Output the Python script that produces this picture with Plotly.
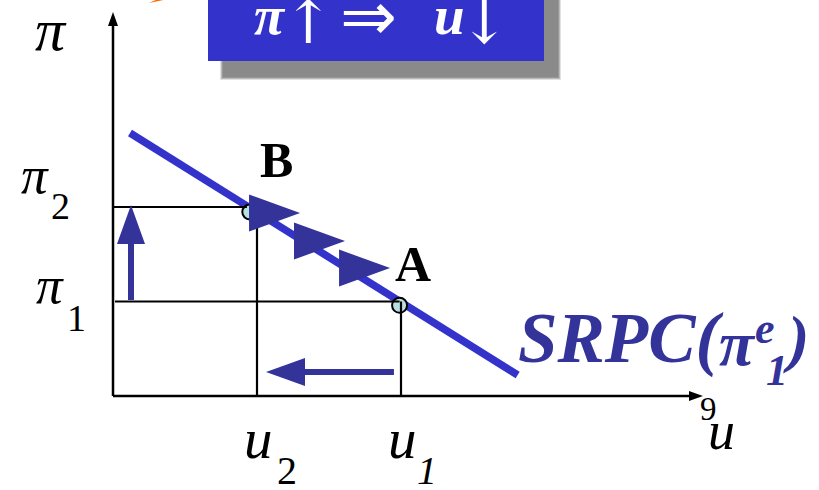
import plotly.graph_objects as go

W, H = 819, 490
X0, Y0 = 113.0, 396.0   # pixel position of the origin
SX, SY = 144.0, 94.5    # pixels per model unit

# ---------------- data (model units) ----------------
u_levels = [1.0, 2.0]            # u2, u1
u_sub = ["2", "1"]
pi_levels = [1.0, 2.0]           # pi1, pi2
pi_sub = ["1", "2"]
srpc_u = [0.118, 2.81]
srpc_pi = [2.783, 0.222]
point_u = [1.99, 0.95]           # A, B
point_pi = [0.96, 1.947]
point_labels = ["A", "B"]
axis_u_max = 4.097
axis_pi_max = 4.063
move_u = [1.299, 1.611, 1.924]   # arrowheads along the SRPC (tips)
move_pi = [1.937, 1.640, 1.354]
shock_pi_u = 0.125               # vertical arrow: inflation rises
shock_pi_from, shock_pi_to = 1.016, 2.02
shock_u_pi = 0.254               # horizontal arrow: unemployment falls
shock_u_from, shock_u_to = 1.951, 1.0625

BLUE = "#3333CC"
DARK = "#333399"
SERIF = "Liberation Serif"


def dx(p):  # pixel x -> model u
    return (p - X0) / SX


def dy(p):  # pixel y -> model pi
    return (Y0 - p) / SY


def mx(u):  # model u -> pixel
    return X0 + u * SX


def my(v):
    return Y0 - v * SY


def path_px(pts):
    return "M " + " L ".join(f"{dx(x):.4f},{dy(y):.4f}" for x, y in pts) + " Z"


fig = go.Figure()
shapes = []

# shadow of the title box (soft)
for i, op in enumerate([0.25, 0.45, 0.7, 1.0]):
    g = 3 - i
    shapes.append(dict(type="rect", xref="x", yref="y",
                       x0=dx(223 - g), x1=dx(558 + g), y0=dy(-10), y1=dy(77 + g),
                       fillcolor="#8a8a8a", opacity=op, line=dict(width=0), layer="below"))
shapes.append(dict(type="rect", xref="x", yref="y",
                   x0=dx(208), x1=dx(544), y0=dy(-10), y1=dy(61),
                   fillcolor=BLUE, line=dict(width=0)))
# small orange sliver at the top
shapes.append(dict(type="path", xref="x", yref="y",
                   path=path_px([(149, 3), (168, -1), (158, -1)]),
                   fillcolor="#FF6600", line=dict(width=0)))

# axes
shapes.append(dict(type="line", xref="x", yref="y", x0=0, y0=0, x1=0, y1=axis_pi_max - 0.1,
                   line=dict(color="black", width=2.5)))
shapes.append(dict(type="line", xref="x", yref="y", x0=0, y0=0, x1=axis_u_max - 0.06, y1=0,
                   line=dict(color="black", width=2.5)))
tx, ty = mx(0), my(axis_pi_max)
shapes.append(dict(type="path", xref="x", yref="y",
                   path=path_px([(tx, ty), (tx - 5, ty + 14), (tx + 5, ty + 14)]),
                   fillcolor="black", line=dict(width=0)))
tx, ty = mx(axis_u_max), my(0)
shapes.append(dict(type="path", xref="x", yref="y",
                   path=path_px([(tx, ty), (tx - 14, ty - 5), (tx - 14, ty + 5)]),
                   fillcolor="black", line=dict(width=0)))

# guide lines
shapes.append(dict(type="line", xref="x", yref="y", x0=0.014, y0=pi_levels[0],
                   x1=point_u[0], y1=pi_levels[0], line=dict(color="black", width=2.2)))
shapes.append(dict(type="line", xref="x", yref="y", x0=u_levels[1], y0=0,
                   x1=u_levels[1], y1=pi_levels[0], line=dict(color="black", width=2.2)))
shapes.append(dict(type="line", xref="x", yref="y", x0=0, y0=pi_levels[1],
                   x1=point_u[1] - 0.02, y1=pi_levels[1], line=dict(color="black", width=2.2)))
shapes.append(dict(type="line", xref="x", yref="y", x0=u_levels[0], y0=0,
                   x1=u_levels[0], y1=pi_levels[1], line=dict(color="black", width=2.2)))

fig.add_trace(go.Scatter(x=srpc_u, y=srpc_pi, mode="lines",
                         line=dict(color=BLUE, width=7.5), hoverinfo="skip", showlegend=False))
fig.add_trace(go.Scatter(x=point_u, y=point_pi, mode="markers",
                         marker=dict(size=15, color="#B8E0E0", line=dict(color="black", width=2)),
                         hoverinfo="skip", showlegend=False))

# arrowheads along the curve
for u, v in zip(move_u, move_pi):
    x, y = mx(u), my(v)
    shapes.append(dict(type="path", xref="x", yref="y",
                       path=path_px([(x, y), (x - 51, y - 18.5), (x - 51, y + 18.5)]),
                       fillcolor=DARK, line=dict(width=0)))

# vertical shock arrow
x = mx(shock_pi_u)
y0p, y1p = my(shock_pi_from), my(shock_pi_to)
shapes.append(dict(type="path", xref="x", yref="y",
                   path=path_px([(x - 3, y0p), (x - 3, y1p + 39), (x - 14, y1p + 39), (x, y1p),
                                 (x + 14, y1p + 39), (x + 3, y1p + 39), (x + 3, y0p)]),
                   fillcolor=DARK, line=dict(width=0)))
# horizontal shock arrow
y = my(shock_u_pi)
x0p, x1p = mx(shock_u_from), mx(shock_u_to)
shapes.append(dict(type="path", xref="x", yref="y",
                   path=path_px([(x0p, y - 3), (x1p + 39, y - 3), (x1p + 39, y - 14), (x1p, y),
                                 (x1p + 39, y + 14), (x1p + 39, y + 3), (x0p, y + 3)]),
                   fillcolor=DARK, line=dict(width=0)))

annotations = []


def txt(x, y, s, size, color="black", family=SERIF):
    annotations.append(dict(xref="paper", yref="paper", x=x / W, y=1 - y / H, text=s,
                            showarrow=False, xanchor="center", yanchor="middle",
                            font=dict(family=family, size=size, color=color)))


# title box text
txt(270, 15, "<b><i>π</i></b>", 55, "white")
txt(308, 22, "↑", 60, "white", "DejaVu Serif")
txt(368, 17, "⇒", 68, "white", "DejaVu Sans")
txt(449, 16, "<b><i>u</i></b>", 55, "white")
txt(484, 22, "↓", 60, "white", "DejaVu Serif")

# axis labels
txt(51, 30, "<i>π</i>", 60)
txt(721, 431, "<i>u</i>", 54)
txt(708, 409, "9", 33)

# pi ticks
pi_px = [(50, 285, 76, 318), (35, 175, 60, 206)]
for (a, b, c, d), lev, sub in zip(pi_px, pi_levels, pi_sub):
    txt(a, b, "<i>π</i>", 53)
    txt(c, d, sub, 38)
# u ticks
for u, sub in zip(u_levels, u_sub):
    xp = mx(u)
    txt(xp + 1, 438, "<i>u</i>", 57)
    txt(xp + 30 - (4 if sub == "1" else 0), 470, f"<i>{sub}</i>" if sub == "1" else sub, 40)

# point labels
txt(413, 264, "<b>A</b>", 50)
txt(276, 160, "<b>B</b>", 50)

# SRPC label
txt(621, 338, "<b><i>SRPC(</i></b>", 71, DARK)
txt(737, 343, "<b><i>π</i></b>", 64, DARK)
txt(765, 328, "<b><i>e</i></b>", 44, DARK)
txt(777, 370, "<b><i>1</i></b>", 44, DARK)
txt(796, 338, "<b><i>)</i></b>", 64, DARK)

fig.update_layout(
    width=W, height=H, margin=dict(l=0, r=0, t=0, b=0),
    paper_bgcolor="white", plot_bgcolor="white",
    xaxis=dict(range=[dx(0), dx(W)], visible=False, fixedrange=True),
    yaxis=dict(range=[dy(H), dy(0)], visible=False, fixedrange=True),
    shapes=shapes, annotations=annotations, showlegend=False,
)
fig.write_html("out.html", config={"displayModeBar": False},
               post_script="document.body.style.margin='0px';document.body.style.overflow='hidden';")
